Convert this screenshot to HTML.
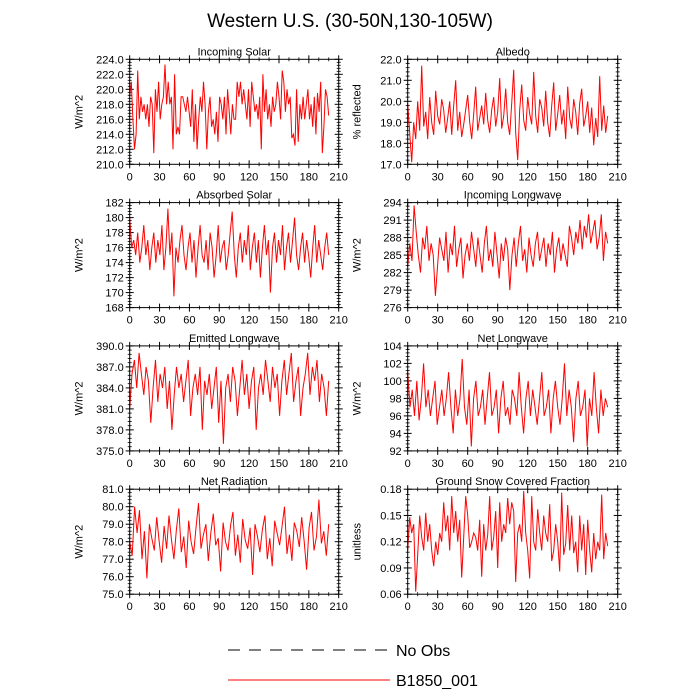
<!DOCTYPE html>
<html><head><meta charset="utf-8"><style>
body{margin:0;background:#fff;}
svg{display:block;font-family:"Liberation Sans",sans-serif;}
</style></head><body>
<svg id="c" width="700" height="700">
<text x="350" y="27" font-size="19" text-anchor="middle">Western U.S. (30-50N,130-105W)</text>
<g>
<line x1="228" y1="650" x2="390" y2="650" stroke="#000" stroke-width="1" stroke-dasharray="12,9"/>
<text x="396" y="656" font-size="16">No Obs</text>
<line x1="228" y1="680" x2="390" y2="680" stroke="#f00" stroke-width="1"/>
<text x="396" y="686" font-size="16">B1850_001</text>
</g>
</svg>
<script>
const xTicks=[0,30,60,90,120,150,180,210];
const sIncSolar=[219,221,216,212,214,222.5,216,219,217,218,216,218,215,219,218,211.5,220,217,221,216,218,219,223.3,218,221,218,219,212,222,214,215,214,219,219,218,217,219,217,215,220,213,218,212,216,219,217,221,218,212,217,219,215,216,214,217,213,219,218,216,219,214,220,217,214,218,216,216,221,219,221,218,220,218,216,220,215,221,219,217,218,216,219,212,222,217,220,216,218,215,219,217,218,221,219,216,222.5,221,217,220,218,219,213.5,214,212.5,220,213,218,216,219,216,218,220,216,218,215,219,214,219.5,217,221,211.5,215,220,219,216.5];
const sAlbedo=[19.9,18.5,17.1,19,18.2,20,18.6,21.7,18.8,19.5,18.2,20.2,19,18.4,20.5,19.3,18.9,20.1,19.6,18.5,19.2,20,18.4,19.8,21,18.6,19.5,18.3,18.9,19.6,20.3,19,18.2,19.4,20.7,18.6,19.2,19.8,18.9,20.4,19.1,18.5,19.6,20.2,18.8,19.5,21.1,18.7,19.3,20.6,19,18.4,19.9,21.5,18.5,17.2,19.6,20.8,19.1,18.6,20.2,19.4,18.9,21.4,19.3,18.5,20.1,19.7,18.8,20.5,19,18.3,19.8,20.9,18.6,19.4,20.3,18.9,19.6,18.2,20.7,19.2,18.7,20.1,19.5,18.4,19.9,20.6,18.8,19.3,20,18.5,19.7,17.9,19.2,18.3,21.2,18.6,19.8,18.5,19.3];
const sAbsSolar=[180,176,177,175,178,174,176,179,175,177,173,176,178,174,177,175,179,173,176,181.2,175,178,169.5,176,174,177,179,175,173,176,178,174,177,172,176,179,175,174,177,173,178,176,172,175,179,174,176,177,173,175,178,180.8,175,172,176,178,174,177,175,179,173,176,178,174,177,172,176,179,175,177,170,176,178,174,177,175,179,173,176,178,174,177,180,175,173,176,178,174,177,175,172,176,179,174,177,175,173,176,178,175];
const sIncLW=[283,287,284,293.5,289,285,282,288,286,290,284,287,285,278,283,288,286,284,289,282,287,285,290,283,286,288,281,285,287,284,289,286,283,288,285,282,287,290,284,286,283,289,285,281,287,284,288,286,279,285,288,283,287,290,284,286,282,288,285,283,287,289,284,286,288,283,287,285,289,282,286,288,284,287,285,283,290,288,285,289,287,291,286,290,288,292,287,289,291,286,288,292,284,289,287];
const sEmitLW=[381,386,388,384,389,386,383,387,385,379,384,388,382,386,384,387,381,385,378,383,387,384,386,382,385,388,380,384,386,383,387,378,385,383,386,381,384,387,379,385,376,384,386,382,387,385,380,384,388,383,386,381,385,387,378,384,386,383,388,385,382,387,384,386,380,385,388,383,386,389,382,385,387,380,384,386,389,383,387,385,388,382,386,384,380,385];
const sNetLW=[101,97,99,96,100,95.5,98,102,97,99,96,98,100,95,97,99,96,98,101,97,94,99,96,98,102.5,97,95,99,92.5,98,100,96,97,99,95,98,101,96,97,99,94,98,100,96,97,95,99,98,96,101,97,94,98,100,96,99,97,95,98,101,96,97,99,94,98,100,97,95,98,102,96,99,97,93,98,100,96,97,99,92.5,98,96,101,97,94,99,96,98,97];
const sNetRad=[78,77.2,80,78.5,79.8,77,78.6,75.9,79,78.2,77.5,79.4,78,76.8,78.9,77.6,79.5,78.1,77,78.7,79.9,77.4,78.3,76.5,79.2,78,77.3,78.8,80.2,77.6,78.4,79,76.9,78.5,79.6,77.8,78.2,76.3,79.1,78,77.5,78.9,79.7,77.2,78.4,76.8,79.3,78.1,77.6,78.8,76.1,79,78.3,77.4,78.7,79.5,77,78.2,76.6,79.2,78.5,77.8,78.9,80,77.3,78.4,76.9,79.1,78.6,77.7,79.4,78,76.4,78.8,79.7,77.5,78.3,80.4,77.9,78.6,77.2,79];
const sSnow=[0.11,0.148,0.13,0.14,0.063,0.105,0.15,0.125,0.11,0.153,0.12,0.14,0.11,0.092,0.12,0.105,0.13,0.12,0.165,0.132,0.15,0.11,0.172,0.13,0.155,0.12,0.145,0.079,0.125,0.172,0.15,0.113,0.12,0.13,0.125,0.11,0.145,0.08,0.14,0.11,0.128,0.172,0.11,0.125,0.155,0.09,0.165,0.12,0.14,0.13,0.17,0.14,0.165,0.155,0.074,0.13,0.14,0.12,0.178,0.13,0.11,0.078,0.172,0.12,0.11,0.157,0.13,0.11,0.15,0.13,0.12,0.163,0.098,0.11,0.14,0.12,0.086,0.176,0.105,0.118,0.162,0.11,0.15,0.107,0.12,0.085,0.15,0.11,0.14,0.082,0.145,0.11,0.085,0.13,0.1,0.12,0.11,0.174,0.1,0.13,0.115];
const titles=["Incoming Solar","Albedo","Absorbed Solar","Incoming Longwave","Emitted Longwave","Net Longwave","Net Radiation","Ground Snow Covered Fraction"];
const units=["W/m^2","% reflected","W/m^2","W/m^2","W/m^2","W/m^2","W/m^2","unitless"];
const yTicks1=[210,212,214,216,218,220,222,224];
const yTicks2=[17,18,19,20,21,22];
const yTicks3=[168,170,172,174,176,178,180,182];
const yTicks4=[276,279,282,285,288,291,294];
const yTicks5=[375,378,381,384,387,390];
const yTicks6=[92,94,96,98,100,102,104];
const yTicks7=[75,76,77,78,79,80,81];
const yTicks8=[0.06,0.09,0.12,0.15,0.18];
const series=[sIncSolar,sAlbedo,sAbsSolar,sIncLW,sEmitLW,sNetLW,sNetRad,sSnow];
const yticks=[yTicks1,yTicks2,yTicks3,yTicks4,yTicks5,yTicks6,yTicks7,yTicks8];
const decs=[1,1,0,0,1,0,1,2];
const NS="http://www.w3.org/2000/svg";
const svg=document.getElementById('c');
function mk(t,a,p){const e=document.createElementNS(NS,t);for(const k in a)e.setAttribute(k,a[k]);p.appendChild(e);return e;}
const slug=s=>s.toLowerCase().replace(/[^a-z0-9]+/g,'-');
for(let k=0;k<8;k++){
  const col=k%2,row=Math.floor(k/2);
  const L=col?407.7:129.7,R=col?617.7:338.7,T=59.3+row*143.3,B=T+105;
  const yt=yticks[k],y0=yt[0],y1=yt[yt.length-1];
  const X=v=>L+(v-0)/(210-0)*(R-L);
  const Y=v=>B-(v-y0)/(y1-y0)*(B-T);
  const g=mk('g',{},svg);
  
  
  const tt=mk('text',{x:(L+R)/2,y:T-4,'font-size':11,'text-anchor':'middle'},g);tt.textContent=titles[k];
  
  
  const ut=mk('text',{x:0,y:0,'font-size':11,'text-anchor':'middle',transform:`translate(${L-47},${(T+B)/2}) rotate(-90)`},g);ut.textContent=units[k];
  
  
  // x ticks
  xTicks.forEach((v,i)=>{
    const x=X(v);
    mk('line',{x1:x,y1:B-4,x2:x,y2:B+4,stroke:'#000','stroke-width':1},g);
    mk('line',{x1:x,y1:T-4,x2:x,y2:T+4,stroke:'#000','stroke-width':1},g);
    if(i<xTicks.length-1){for(let m=1;m<3;m++){const xm=X(v+m*10);
      mk('line',{x1:xm,y1:B-2,x2:xm,y2:B+2,stroke:'#000','stroke-width':0.8},g);
      mk('line',{x1:xm,y1:T-2,x2:xm,y2:T+2,stroke:'#000','stroke-width':0.8},g);}}
    const tl=mk('text',{x:x,y:B+16,'font-size':11,'text-anchor':'middle'},g);tl.textContent=v;
    
    
  });
  yt.forEach((v,i)=>{
    const y=Y(v);
    mk('line',{x1:L-4,y1:y,x2:L+4,y2:y,stroke:'#000','stroke-width':1},g);
    mk('line',{x1:R-4,y1:y,x2:R+4,y2:y,stroke:'#000','stroke-width':1},g);
    if(i<yt.length-1){const st=(yt[i+1]-v)/5;for(let m=1;m<5;m++){const ym=Y(v+m*st);
      mk('line',{x1:L-2,y1:ym,x2:L+2,y2:ym,stroke:'#000','stroke-width':0.8},g);
      mk('line',{x1:R-2,y1:ym,x2:R+2,y2:ym,stroke:'#000','stroke-width':0.8},g);}}
    const tl=mk('text',{x:L-6,y:y+4,'font-size':11,'text-anchor':'end'},g);tl.textContent=v.toFixed(decs[k]);
    
    
  });
  const d=series[k],n=d.length;
  const pts=d.map((v,i)=>X(i*200/(n-1)).toFixed(1)+','+Y(v).toFixed(1)).join(' ');
  const pl=mk('polyline',{points:pts,fill:'none',stroke:'#f00','stroke-width':1},g);
  
  
  const fr=mk('rect',{x:L,y:T,width:R-L,height:B-T,fill:'none',stroke:'#000','stroke-width':1},g);
  
  
}
</script>
</body></html>
